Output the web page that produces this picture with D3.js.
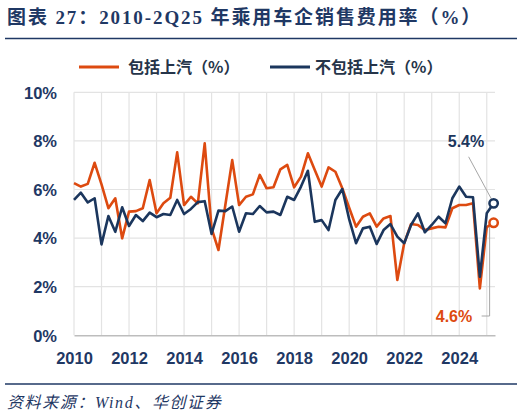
<!DOCTYPE html>
<html>
<head>
<meta charset="utf-8">
<script src="https://cdn.jsdelivr.net/npm/d3@7/dist/d3.min.js"></script>
<style>
  html, body { margin: 0; padding: 0; background: #fff; }
  svg { display: block; }
</style>
</head>
<body>
<svg id="chart" width="524" height="419"></svg>
<script>
// ---- data ----
const years = [2010, 2011, 2012, 2013, 2014, 2015, 2016, 2017, 2018, 2019, 2020, 2021, 2022, 2023, 2024, 2025];
const quarters = ["Q1", "Q2", "Q3", "Q4"];
const xTickYears = [2010, 2012, 2014, 2016, 2018, 2020, 2022, 2024];
const yTicks = [0, 2, 4, 6, 8, 10];
const seriesNames = ["包括上汽（%）", "不包括上汽（%）"];
const inclSAIC = [
  6.26, 6.12, 6.23, 7.10,
  6.21, 5.23, 5.64, 3.99,
  5.09, 5.11, 5.23, 6.39,
  5.02, 5.43, 5.66, 7.53,
  5.36, 5.70, 5.43, 7.90,
  4.40, 3.51, 5.36, 7.21,
  5.36, 5.70, 5.80, 6.60,
  6.05, 6.09, 6.83, 7.01,
  6.09, 6.53, 7.49, 6.80,
  6.12, 6.91, 6.73, 6.05,
  5.25, 4.47, 4.88, 5.02,
  4.47, 4.81, 4.91, 2.28,
  3.79, 4.58, 4.54, 4.33,
  4.40, 4.47, 4.44, 5.23,
  5.36, 5.36, 5.43, 1.93,
  4.45, 4.63
];
const exclSAIC = [
  5.57, 5.87, 5.47, 5.64,
  3.74, 4.91, 4.26, 5.27,
  4.50, 4.95, 4.70, 5.05,
  4.86, 4.99, 4.95, 5.57,
  4.99, 5.20, 5.48, 5.52,
  4.17, 5.13, 5.11, 5.30,
  4.26, 5.02, 4.99, 5.32,
  5.06, 5.09, 4.95, 5.70,
  5.57, 6.12, 6.77, 4.67,
  4.74, 4.33, 5.57, 6.02,
  4.78, 3.79, 4.40, 4.47,
  3.76, 4.33, 4.58, 4.06,
  3.79, 4.54, 5.02, 4.24,
  4.54, 4.88, 4.61, 5.64,
  6.12, 5.70, 5.68, 2.41,
  5.02, 5.43
];
const lastLabels = ["4.6%", "5.4%"];

// ---- styles ----
const ORANGE = "#DD4A10";
const NAVY = "#1B365D";
const TEXTNAVY = "#1F3864";
const GRID = "#E3E3E3";

// time positions: year + quarter offset
const times = [];
years.forEach(y => quarters.forEach((q, i) => times.push(y + i / 4)));
const t = times.slice(0, inclSAIC.length);

const svg = d3.select("#chart");

const x = d3.scaleLinear().domain([2010, 2025.3]).range([74, 495]);
const y = d3.scaleLinear().domain([0, 10]).range([335.3, 92.3]);

// title
svg.append("text")
  .attr("x", 7).attr("y", 24)
  .attr("fill", TEXTNAVY)
  .attr("font-family", "'Liberation Serif', 'Noto Sans CJK SC', serif")
  .attr("font-weight", "bold")
  .attr("font-size", 19)
  .attr("letter-spacing", 1.9)
  .text("图表 27：2010-2Q25 年乘用车企销售费用率（%）");

svg.append("line")
  .attr("x1", 5).attr("x2", 517).attr("y1", 38.5).attr("y2", 38.5)
  .attr("stroke", TEXTNAVY).attr("stroke-width", 1.5);

// legend
const legend = [
  { name: seriesNames[0], color: ORANGE, x1: 79, x2: 119, tx: 128 },
  { name: seriesNames[1], color: NAVY, x1: 270, x2: 310, tx: 315 }
];
legend.forEach(l => {
  svg.append("line").attr("x1", l.x1).attr("x2", l.x2).attr("y1", 67).attr("y2", 67)
    .attr("stroke", l.color).attr("stroke-width", 3);
  svg.append("text").attr("x", l.tx).attr("y", 72.5)
    .attr("font-family", "'Noto Sans CJK SC', sans-serif")
    .attr("font-weight", "bold").attr("font-size", 16)
    .attr("fill", "#253449").text(l.name);
});

// grid
const g = svg.append("g");
g.selectAll(".vg").data(d3.range(2010, 2026)).join("line")
  .attr("x1", d => x(d)).attr("x2", d => x(d))
  .attr("y1", y(10)).attr("y2", y(0))
  .attr("stroke", GRID).attr("stroke-width", 1.2);
g.selectAll(".hg").data(yTicks.filter(d => d > 0)).join("line")
  .attr("x1", x(2010)).attr("x2", x(2025.3))
  .attr("y1", d => y(d)).attr("y2", d => y(d))
  .attr("stroke", GRID).attr("stroke-width", 1.2);

// x axis
const xAxis = d3.axisBottom(x).tickValues(xTickYears).tickSize(0).tickFormat(d3.format("d"));
const xa = svg.append("g").attr("transform", `translate(0,${y(0)})`).call(xAxis);
xa.select(".domain").attr("stroke", "#BDBDBD").attr("stroke-width", 1.5);
xa.selectAll("text")
  .attr("dy", 0).attr("y", 29)
  .attr("fill", TEXTNAVY)
  .attr("font-family", "'Liberation Sans', Arial, sans-serif")
  .attr("font-weight", "bold").attr("font-size", 16.5);

// y axis
const yAxis = d3.axisLeft(y).tickValues(yTicks).tickSize(0).tickFormat(d => d + "%");
const ya = svg.append("g").attr("transform", `translate(${x(2010)},0)`).call(yAxis);
ya.select(".domain").remove();
ya.selectAll("text")
  .attr("x", -17).attr("dy", "0.35em")
  .attr("fill", TEXTNAVY)
  .attr("font-family", "'Liberation Sans', Arial, sans-serif")
  .attr("font-weight", "bold").attr("font-size", 16.5);

// lines
const line = d3.line().x((d, i) => x(t[i])).y(d => y(d));
svg.append("path").datum(inclSAIC).attr("d", line)
  .attr("fill", "none").attr("stroke", ORANGE).attr("stroke-width", 2.6)
  .attr("stroke-linejoin", "round");
svg.append("path").datum(exclSAIC).attr("d", line)
  .attr("fill", "none").attr("stroke", NAVY).attr("stroke-width", 2.6)
  .attr("stroke-linejoin", "round");

// end markers & annotations
const li = inclSAIC.length - 1;
const xo = x(t[li]);
// leaders
svg.append("line").attr("x1", xo - 25).attr("y1", y(inclSAIC[li]) - 66)
  .attr("x2", xo - 2).attr("y2", y(exclSAIC[li]) - 4)
  .attr("stroke", "#A6A6A6").attr("stroke-width", 1);
svg.append("polyline")
  .attr("points", `${xo - 12},316 ${xo - 4},316 ${xo - 4},${y(inclSAIC[li]) + 4}`)
  .attr("fill", "none").attr("stroke", "#A6A6A6").attr("stroke-width", 1);

svg.append("circle").attr("cx", xo).attr("cy", y(exclSAIC[li])).attr("r", 4.2)
  .attr("fill", "#fff").attr("stroke", NAVY).attr("stroke-width", 2.5);
svg.append("circle").attr("cx", xo).attr("cy", y(inclSAIC[li])).attr("r", 4.2)
  .attr("fill", "#fff").attr("stroke", ORANGE).attr("stroke-width", 2.5);

svg.append("text").attr("x", 466).attr("y", 147).attr("text-anchor", "middle")
  .attr("font-family", "'Liberation Sans', Arial, sans-serif")
  .attr("font-weight", "bold").attr("font-size", 16).attr("fill", NAVY)
  .text(lastLabels[1]);
svg.append("text").attr("x", 454).attr("y", 322).attr("text-anchor", "middle")
  .attr("font-family", "'Liberation Sans', Arial, sans-serif")
  .attr("font-weight", "bold").attr("font-size", 16).attr("fill", ORANGE)
  .text(lastLabels[0]);

// footer
svg.append("line")
  .attr("x1", 5).attr("x2", 517).attr("y1", 384).attr("y2", 384)
  .attr("stroke", TEXTNAVY).attr("stroke-width", 1.5);
svg.append("text").attr("x", 7).attr("y", 408)
  .attr("font-family", "'Liberation Serif', 'Noto Sans CJK SC', serif")
  .attr("font-style", "italic").attr("font-size", 16).attr("letter-spacing", 1.6)
  .attr("fill", TEXTNAVY)
  .text("资料来源：Wind、华创证券");
</script>
</body>
</html>
